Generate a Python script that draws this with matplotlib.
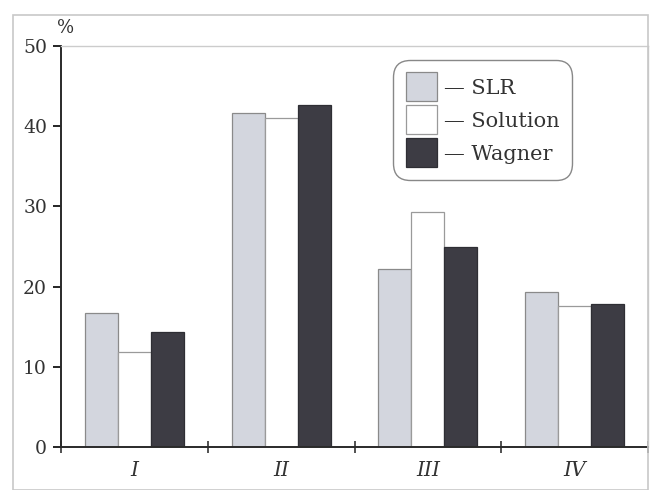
import matplotlib
matplotlib.use("Agg")
import matplotlib.pyplot as plt
import numpy as np
from matplotlib.patches import Rectangle

categories = ["I", "II", "III", "IV"]
series_names = ["SLR", "Solution", "Wagner"]
slr = [16.7, 41.6, 22.2, 19.3]
solution = [11.9, 41.0, 29.3, 17.6]
wagner = [14.3, 42.6, 24.9, 17.8]
yticks = [0, 10, 20, 30, 40, 50]

colors = ["#d3d6de", "#ffffff", "#3d3c44"]
edges = ["#8a8a8a", "#9a9a9a", "#2e2e34"]

plt.rcParams["font.family"] = ["DejaVu Serif"]

fig = plt.figure(figsize=(6.5, 4.9), dpi=100)
ax = fig.add_axes([61/650, 1-447/490, (648-61)/650, (447-46)/490])

# outer scan frame
fig.patches.append(Rectangle((13/650, 0), (648-13)/650, 1-15/490, transform=fig.transFigure,
                             fill=False, edgecolor="#c8c8c8", linewidth=1.2))

x = np.arange(len(categories))
w = 0.225
for i, (vals, c, e, name) in enumerate(zip([slr, solution, wagner], colors, edges, series_names)):
    ax.bar(x + (i - 1) * w, vals, width=w, color=c, edgecolor=e, linewidth=0.9,
           label="— " + name, zorder=2)

ax.set_xlim(-0.5, 3.5)
ax.set_ylim(0, 50)
ax.set_yticks(yticks)
ax.set_yticklabels([str(t) for t in yticks], fontsize=13.5, color="#333333")
ax.tick_params(axis="y", direction="out", length=6, width=1.2, pad=4)

ax.set_xticks(x)
ax.set_xticklabels(categories, fontsize=14.5, style="italic", color="#333333")
ax.tick_params(axis="x", which="major", length=0, pad=10)
ax.set_xticks([-0.5, 0.5, 1.5, 2.5, 3.5], minor=True)
ax.tick_params(axis="x", which="minor", direction="inout", length=9, width=1.2, color="#333333")

for s in ["left", "bottom"]:
    ax.spines[s].set_linewidth(1.4)
    ax.spines[s].set_color("#2a2a2a")
ax.spines["top"].set_color("#cccccc")
ax.spines["top"].set_linewidth(1.0)
ax.spines["right"].set_color("#cccccc")
ax.spines["right"].set_linewidth(1.0)

fig.text(66/650, 1-28/490, "%", fontsize=13, color="#333333", ha="center", va="center")

leg = ax.legend(loc="upper left", bbox_to_anchor=((393-61)/587, (447-60)/401),
                fontsize=15, frameon=True, fancybox=True, framealpha=1,
                edgecolor="#888888", handlelength=1.5, handleheight=1.75,
                handletextpad=0.35, labelspacing=0.2, borderpad=0.6, borderaxespad=0)
for t in leg.get_texts():
    t.set_color("#333333")
leg.get_frame().set_linewidth(1.0)
leg.get_frame().set_boxstyle("round", pad=0, rounding_size=0.8)

fig.savefig("out.png", dpi=100)
